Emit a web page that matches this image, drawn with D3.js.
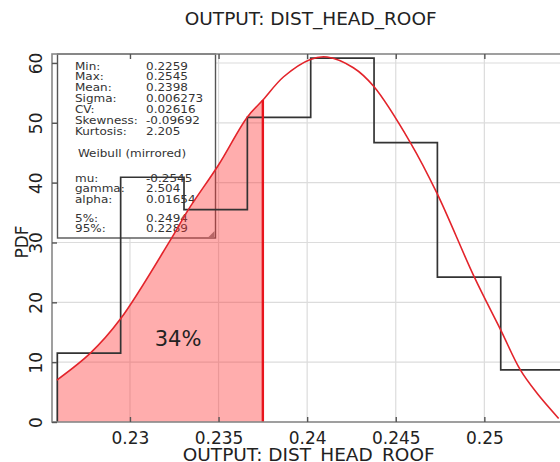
<!DOCTYPE html>
<html>
<head>
<meta charset="utf-8">
<script src="https://cdn.jsdelivr.net/npm/d3@7"></script>
<style>
  html, body { margin: 0; padding: 0; background: #fff; }
  svg { display: block; font-family: "DejaVu Sans", Verdana, sans-serif; }
</style>
</head>
<body>
<svg id="chart" width="560" height="462"></svg>
<script>
// ---------- data ----------
const titleText = "OUTPUT: DIST_HEAD_ROOF";
const xAxisTitle = "OUTPUT: DIST_HEAD_ROOF";
const yAxisTitle = "PDF";

const binEdges = [0.2259, 0.229475, 0.23305, 0.236625, 0.2402, 0.243775, 0.24735, 0.250925, 0.2545];
const binValues = [11.5, 40.9, 35.5, 50.9, 60.8, 46.7, 24.2, 8.7];

const curveX = [0.225875, 0.227765, 0.229458, 0.232280, 0.233296, 0.235006, 0.236608, 0.2375,
                0.238674, 0.240181, 0.241123, 0.242607, 0.243753, 0.245824, 0.247331, 0.249436,
                0.250920, 0.252032, 0.252974, 0.254193];
const curveY = [7.0, 11.5, 17.2, 30.4, 35.5, 43.0, 50.9, 53.8,
                57.7, 60.6, 61.0, 59.2, 56.1, 46.7, 38.2, 24.2,
                15.4, 8.7, 4.8, 0.6];

const cutValue = 0.2375;
const cutLabel = "34%";

const xTicks = [0.23, 0.235, 0.24, 0.245, 0.25];
const xTickLabels = ["0.23", "0.235", "0.24", "0.245", "0.25"];
const yTicks = [0, 10, 20, 30, 40, 50, 60];

const statLabels = ["Min:", "Max:", "Mean:", "Sigma:", "CV:", "Skewness:", "Kurtosis:"];
const statValues = ["0.2259", "0.2545", "0.2398", "0.006273", "0.02616", "-0.09692", "2.205"];
const fitTitle = "Weibull (mirrored)";
const fitLabels = ["mu:", "gamma:", "alpha:"];
const fitValues = ["-0.2545", "2.504", "0.01654"];
const pctLabels = ["5%:", "95%:"];
const pctValues = ["0.2494", "0.2289"];

// ---------- layout ----------
const svg = d3.select("#chart");
const L = 52, T = 54, B = 422, R = 569.4;

const x = d3.scaleLinear().domain([0.2256, 0.2548]).range([L, R]);
const y = d3.scaleLinear().domain([0, 61.5]).range([B, T]);

svg.append("defs").append("clipPath").attr("id", "plotclip")
  .append("rect").attr("x", L).attr("y", T).attr("width", R - L).attr("height", B - T);
svg.select("defs").append("clipPath").attr("id", "cutclip")
  .append("rect").attr("x", L).attr("y", T).attr("width", x(cutValue) - L).attr("height", B - T);

// grid
const grid = svg.append("g").attr("clip-path", "url(#plotclip)");
grid.selectAll("line.vg").data(xTicks).join("line")
  .attr("x1", d => x(d)).attr("x2", d => x(d)).attr("y1", T).attr("y2", B)
  .attr("stroke", "#dcdcdc").attr("stroke-width", 1.2);
grid.selectAll("line.hg").data(yTicks.filter(d => d > 0)).join("line")
  .attr("x1", L).attr("x2", R).attr("y1", d => y(d)).attr("y2", d => y(d))
  .attr("stroke", "#dcdcdc").attr("stroke-width", 1.2);

// stats box (white background, under data marks)
const box = svg.append("g");
const bx0 = 57.5, by0 = 54, bx1 = 215.5, by1 = 238;
box.append("rect").attr("x", bx0).attr("y", by0).attr("width", bx1 - bx0).attr("height", by1 - by0)
  .attr("fill", "#fff").attr("stroke", "#555").attr("stroke-width", 1.4);
box.append("path").attr("d", `M${bx1 - 1},${by1 - 7} L${bx1 - 1},${by1 - 1} L${bx1 - 7},${by1 - 1} Z`).attr("fill", "#888");

const lblX = 75, valX = 146, fs = 10, sx = 1.2, lh = 10.85;
const rows = [];
statLabels.forEach((l, i) => rows.push({ l, v: statValues[i], yb: 69.5 + i * lh }));
fitLabels.forEach((l, i) => rows.push({ l, v: fitValues[i], yb: 181.5 + i * lh }));
pctLabels.forEach((l, i) => rows.push({ l, v: pctValues[i], yb: 221.5 + i * lh }));
box.selectAll("text.lbl").data(rows).join("text")
  .attr("transform", d => `translate(${lblX},${d.yb}) scale(${sx},1)`).text(d => d.l)
  .attr("font-size", fs).attr("fill", "#333");
box.selectAll("text.val").data(rows).join("text")
  .attr("transform", d => `translate(${valX},${d.yb}) scale(${sx},1)`).text(d => d.v)
  .attr("font-size", fs).attr("fill", "#333");
box.append("text").attr("transform", `translate(132,157) scale(${sx},1)`).attr("text-anchor", "middle")
  .attr("font-size", fs).attr("fill", "#333").text(fitTitle);

// data layer
const plot = svg.append("g").attr("clip-path", "url(#plotclip)");
const pts = curveX.map((d, i) => [d, curveY[i]]);
const smooth = d3.curveCatmullRom.alpha(0.5);

// shaded area up to cut
plot.append("path").datum(pts)
  .attr("clip-path", "url(#cutclip)")
  .attr("d", d3.area().x(d => x(d[0])).y0(y(0)).y1(d => y(d[1])).curve(smooth))
  .attr("fill", "rgba(255,50,50,0.40)");

// histogram step outline
const hist = [[binEdges[0], 0]];
binValues.forEach((v, i) => { hist.push([binEdges[i], v]); hist.push([binEdges[i + 1], v]); });
hist.push([binEdges[binEdges.length - 1], 0]);
plot.append("path").datum(hist)
  .attr("d", d3.line().x(d => x(d[0])).y(d => y(d[1])))
  .attr("fill", "none").attr("stroke", "#333").attr("stroke-width", 1.7);

// fitted curve
plot.append("path").datum(pts)
  .attr("d", d3.line().x(d => x(d[0])).y(d => y(d[1])).curve(smooth))
  .attr("fill", "none").attr("stroke", "#e3242b").attr("stroke-width", 1.6);

// cut line
const cutIdx = curveX.indexOf(cutValue);
plot.append("line").attr("x1", x(cutValue)).attr("x2", x(cutValue))
  .attr("y1", y(0)).attr("y2", y(curveY[cutIdx]))
  .attr("stroke", "#e8141c").attr("stroke-width", 2.4);

svg.append("text").attr("x", 178).attr("y", 346).attr("text-anchor", "middle")
  .attr("font-size", 21).attr("fill", "#222").text(cutLabel);

// frame
svg.append("rect").attr("x", L).attr("y", T).attr("width", R - L).attr("height", B - T)
  .attr("fill", "none").attr("stroke", "#888").attr("stroke-width", 1.6);

// axes
const xAxis = d3.axisBottom(x).tickValues(xTicks).tickFormat((d, i) => xTickLabels[i])
  .tickSizeInner(-5).tickSizeOuter(0).tickPadding(10);
const gx = svg.append("g").attr("transform", `translate(0,${B})`).call(xAxis);
gx.select(".domain").remove();
gx.selectAll(".tick line").attr("stroke", "#555").attr("stroke-width", 1.4);
gx.selectAll(".tick text").attr("font-size", 17).attr("fill", "#222")
  .attr("font-family", "DejaVu Sans, sans-serif");

const xTop = d3.axisTop(x).tickValues(xTicks).tickFormat("").tickSizeInner(-5).tickSizeOuter(0);
const gxt = svg.append("g").attr("transform", `translate(0,${T})`).call(xTop);
gxt.select(".domain").remove();
gxt.selectAll(".tick line").attr("stroke", "#555").attr("stroke-width", 1.4);

const yAxis = d3.axisLeft(y).tickValues(yTicks).tickSizeInner(-5).tickSizeOuter(0).tickPadding(0);
const gy = svg.append("g").attr("transform", `translate(${L},0)`).call(yAxis);
gy.select(".domain").remove();
gy.selectAll(".tick line").attr("stroke", "#555").attr("stroke-width", 1.4);
gy.selectAll(".tick text")
  .attr("x", 0).attr("y", 0).attr("dy", "0.36em")
  .attr("text-anchor", "middle")
  .attr("transform", "translate(-16,0) rotate(-90)")
  .attr("font-size", 17).attr("fill", "#222")
  .attr("font-family", "DejaVu Sans, sans-serif");

// titles
svg.append("text").attr("x", (L + R) / 2).attr("y", 25).attr("text-anchor", "middle")
  .attr("font-size", 18.5).attr("fill", "#222").text(titleText);
svg.append("text").attr("x", (L + R) / 2 - 2).attr("y", 460.5).attr("text-anchor", "middle")
  .attr("font-size", 18.5).attr("fill", "#222").text(xAxisTitle);
svg.append("text").attr("transform", "translate(22,242) rotate(-90)")
  .attr("text-anchor", "middle").attr("dy", "0.36em")
  .attr("font-size", 17).attr("fill", "#222").text(yAxisTitle);
</script>
</body>
</html>
